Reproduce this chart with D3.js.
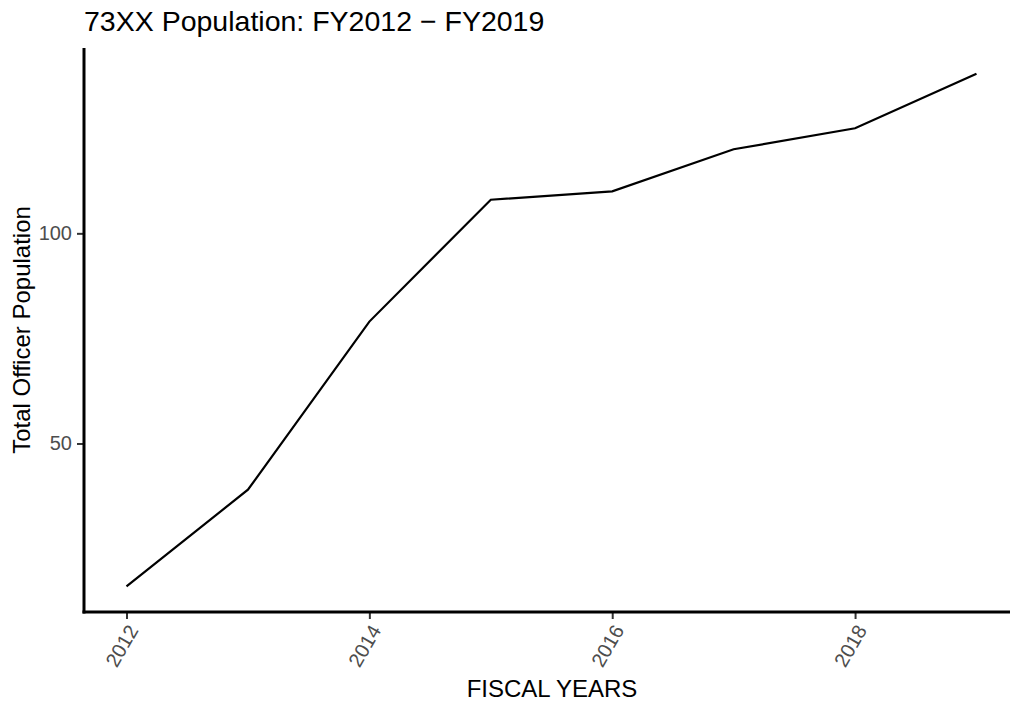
<!DOCTYPE html>
<html><head><meta charset="utf-8">
<script src="https://cdn.jsdelivr.net/npm/d3@7"></script>
<style>body{margin:0;background:#fff;} svg{display:block;font-family:"Liberation Sans",Arial,sans-serif;}</style>
</head><body>
<svg id="c" width="1010" height="702"></svg>
<script>
const years = [2012, 2013, 2014, 2015, 2016, 2017, 2018, 2019];
const population = [16, 39, 79, 108, 110, 120, 125, 138];
const xTicks = [2012, 2014, 2016, 2018];
const yTicks = [50, 100];

(function(){
const svg = d3.select("#c");
const mLeft = 84, mRight = 1019, mTop = 48, mBottom = 612;
const x = d3.scaleLinear().domain([2011.65, 2019.35]).range([mLeft, mRight]);
const y = d3.scaleLinear().domain([9.9, 144.1]).range([mBottom, mTop]);

svg.append("path").datum(years.map((yr,i)=>[yr,population[i]]))
  .attr("fill","none").attr("stroke","#000").attr("stroke-width",2.2)
  .attr("d", d3.line().x(d=>x(d[0])).y(d=>y(d[1])));

const ya = svg.append("g").attr("transform",`translate(${mLeft},0)`)
  .call(d3.axisLeft(y).tickValues(yTicks).tickSize(7).tickPadding(5));
ya.select(".domain").remove();
ya.selectAll(".tick line").attr("stroke","#333").attr("stroke-width",2);
ya.selectAll(".tick text").attr("fill","#4D4D4D").style("font-size","20px").style("font-family","Liberation Sans, Arial, sans-serif");

const xa = svg.append("g").attr("transform",`translate(0,${mBottom})`)
  .call(d3.axisBottom(x).tickValues(xTicks).tickFormat(d3.format("d")).tickSize(7));
xa.select(".domain").remove();
xa.selectAll(".tick line").attr("stroke","#333").attr("stroke-width",2);
xa.selectAll(".tick text").attr("fill","#4D4D4D").style("font-size","20px")
  .style("font-family","Liberation Sans, Arial, sans-serif")
  .attr("text-anchor","end").attr("dy",null).attr("y",0)
  .attr("transform","translate(12,18) rotate(-60)");

svg.append("line").attr("x1",mLeft).attr("x2",mLeft).attr("y1",mTop).attr("y2",mBottom+1.5)
  .attr("stroke","#000").attr("stroke-width",3);
svg.append("line").attr("x1",mLeft-1.5).attr("x2",1010).attr("y1",mBottom).attr("y2",mBottom)
  .attr("stroke","#000").attr("stroke-width",3);

svg.append("text").attr("x",84).attr("y",31).text("73XX Population: FY2012 \u2212 FY2019")
  .attr("fill","#000").style("font-size","28.5px");
svg.append("text").attr("x",552).attr("y",697).attr("text-anchor","middle")
  .text("FISCAL YEARS").attr("fill","#000").style("font-size","24px");
svg.append("text").attr("transform","translate(30,330) rotate(-90)").attr("text-anchor","middle")
  .text("Total Officer Population").attr("fill","#000").style("font-size","24px");
})();
</script>
</body></html>
